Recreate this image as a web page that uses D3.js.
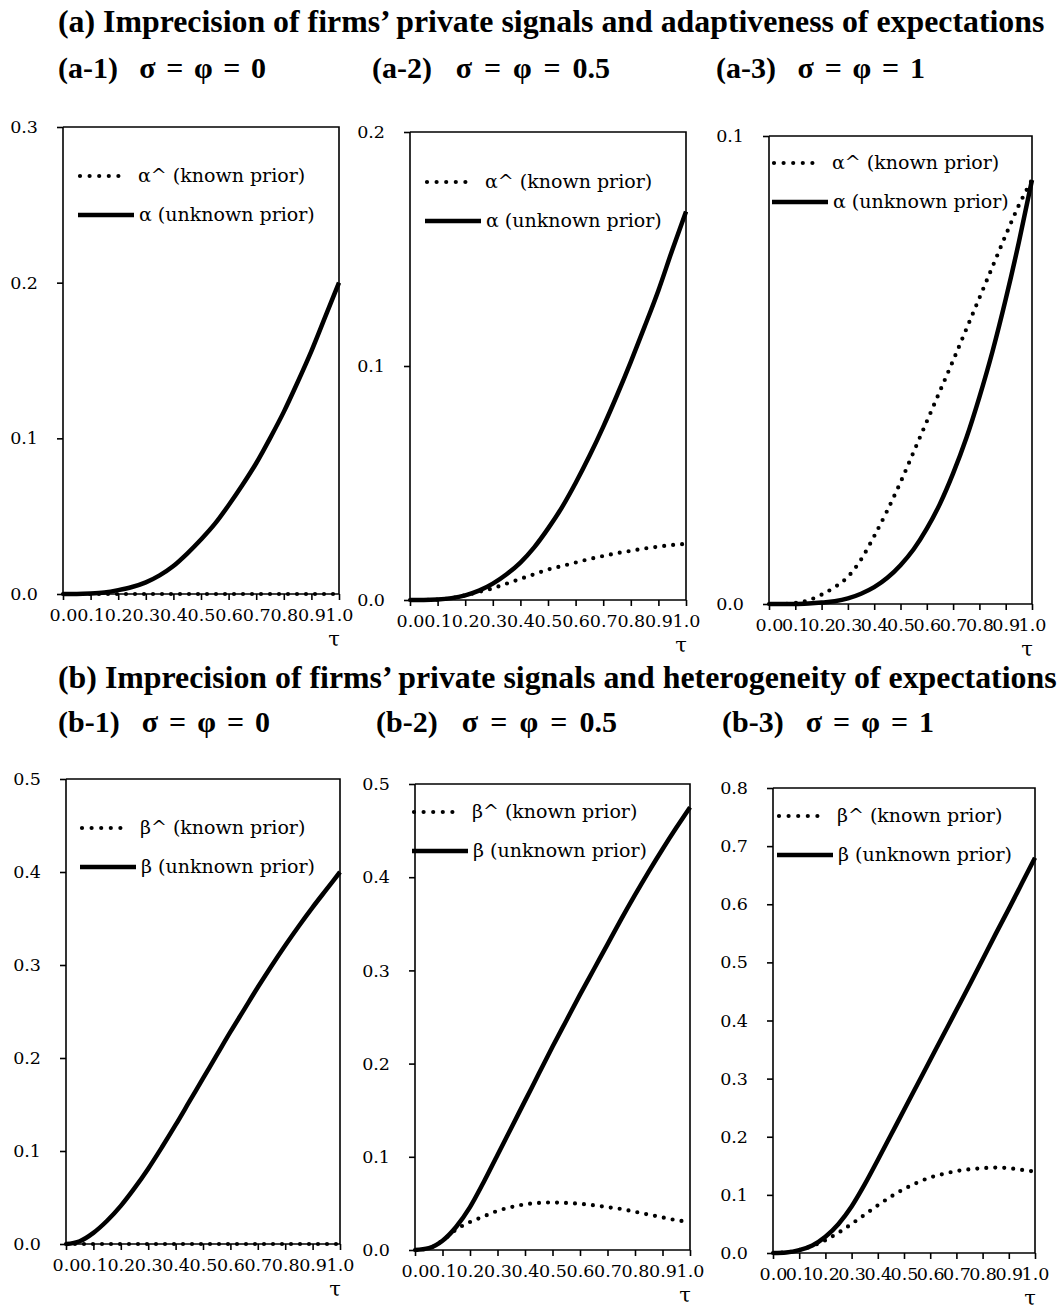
<!DOCTYPE html>
<html>
<head>
<meta charset="utf-8">
<script src="https://cdn.jsdelivr.net/npm/d3@7"></script>
<style>
  body { margin: 0; background: #fff; }
  text { font-family: "DejaVu Serif", serif; fill: #000; }
  .head { font-family: "Liberation Serif", serif; font-weight: bold; }
</style>
</head>
<body>
<div id="chart"></div>
<script>
// tau grid shared by every panel
const tau = [0, 0.05, 0.1, 0.15, 0.2, 0.25, 0.3, 0.35, 0.4, 0.45, 0.5,
             0.55, 0.6, 0.65, 0.7, 0.75, 0.8, 0.85, 0.9, 0.95, 1.0]
const xTicks = ['0.0', '0.1', '0.2', '0.3', '0.4', '0.5', '0.6', '0.7', '0.8', '0.9', '1.0']

// (a) alpha
const a1Known   = [0,0,0,0,0,0,0,0,0,0,0,0,0,0,0,0,0,0,0,0,0]
const a1Unknown = [0,0,0.0003,0.001,0.0025,0.0045,0.0075,0.012,0.018,0.026,0.035,
                   0.045,0.057,0.07,0.084,0.1,0.117,0.136,0.156,0.178,0.2]
const a2Known   = [0,0,0.0002,0.0008,0.002,0.0035,0.005,0.007,0.009,0.011,0.013,
                   0.0145,0.016,0.0175,0.0188,0.02,0.021,0.022,0.0228,0.0235,0.024]
const a2Unknown = [0,0,0.0002,0.0008,0.002,0.004,0.007,0.011,0.016,0.0225,0.0305,
                   0.0395,0.05,0.0615,0.074,0.0875,0.1018,0.1168,0.1323,0.1495,0.166]
const a3Known   = [0,0,0.0002,0.0008,0.002,0.0036,0.0058,0.0095,0.0145,0.02,0.026,
                   0.0325,0.039,0.0455,0.052,0.0587,0.0654,0.0721,0.0788,0.0852,0.0906]
const a3Unknown = [0,0,0,0.0001,0.0003,0.0006,0.0012,0.0022,0.0036,0.0056,0.0083,
                   0.0117,0.0161,0.0214,0.0279,0.0354,0.0442,0.054,0.0651,0.0773,0.0906]

// (b) beta
const b1Known   = [0,0,0,0,0,0,0,0,0,0,0,0,0,0,0,0,0,0,0,0,0]
const b1Unknown = [0,0.003,0.012,0.025,0.041,0.06,0.081,0.104,0.128,0.153,0.178,
                   0.203,0.228,0.252,0.276,0.299,0.321,0.342,0.362,0.381,0.4]
const b2Known   = [0,0.002,0.01,0.022,0.03,0.036,0.042,0.046,0.049,0.0505,0.051,
                   0.0505,0.0495,0.048,0.046,0.044,0.041,0.038,0.035,0.032,0.03]
const b2Unknown = [0,0.002,0.01,0.025,0.046,0.073,0.102,0.131,0.16,0.189,0.218,
                   0.246,0.274,0.301,0.328,0.355,0.381,0.406,0.43,0.453,0.475]
const b3Known   = [0,0.001,0.005,0.012,0.022,0.035,0.05,0.066,0.082,0.097,0.11,
                   0.121,0.13,0.136,0.141,0.144,0.146,0.147,0.146,0.143,0.14]
const b3Unknown = [0,0.001,0.005,0.013,0.028,0.05,0.08,0.118,0.16,0.203,0.246,
                   0.289,0.332,0.375,0.418,0.461,0.505,0.549,0.592,0.636,0.68]

const titles = [
  "(a) Imprecision of firms\u2019 private signals and adaptiveness of expectations",
  "(b) Imprecision of firms\u2019 private signals and heterogeneity of expectations"
]

var panels = [
  {sub: "(a-1)  \u03c3 = \u03c6 = 0",   sym: "\u03b1", known: a1Known, unknown: a1Unknown, ymax: 0.3, yTicks: ['0.0','0.1','0.2','0.3'],
   box: [63, 339, 127, 594], subX: 58, subY: 78, subW: 208, leg: [15, 49]},
  {sub: "(a-2)  \u03c3 = \u03c6 = 0.5", sym: "\u03b1", known: a2Known, unknown: a2Unknown, ymax: 0.2, yTicks: ['0.0','0.1','0.2'],
   box: [410, 686, 132, 600], subX: 372, subY: 78, subW: 238, leg: [15, 50]},
  {sub: "(a-3)  \u03c3 = \u03c6 = 1",   sym: "\u03b1", known: a3Known, unknown: a3Unknown, ymax: 0.1, yTicks: ['0.0','0.1'],
   box: [769, 1032, 136, 604], subX: 716, subY: 78, subW: 209, leg: [3, 27]},
  {sub: "(b-1)  \u03c3 = \u03c6 = 0",   sym: "\u03b2", known: b1Known, unknown: b1Unknown, ymax: 0.5, yTicks: ['0.0','0.1','0.2','0.3','0.4','0.5'],
   box: [66, 340, 779, 1244], subX: 58, subY: 732, subW: 212, leg: [14, 49]},
  {sub: "(b-2)  \u03c3 = \u03c6 = 0.5", sym: "\u03b2", known: b2Known, unknown: b2Unknown, ymax: 0.5, yTicks: ['0.0','0.1','0.2','0.3','0.4','0.5'],
   box: [415, 690, 784, 1250], subX: 376, subY: 732, subW: 241, leg: [-3, 28]},
  {sub: "(b-3)  \u03c3 = \u03c6 = 1",   sym: "\u03b2", known: b3Known, unknown: b3Unknown, ymax: 0.8, yTicks: ['0.0','0.1','0.2','0.3','0.4','0.5','0.6','0.7','0.8'],
   box: [773, 1035, 788, 1253], subX: 722, subY: 732, subW: 212, leg: [4, 28]}
]

var svg = d3.select("#chart").append("svg")
    .attr("width", 1061)
    .attr("height", 1310)

// scale font size so the text spans a target width
function fitWidth(sel, target) {
  var fs = parseFloat(sel.style("font-size"))
  var w = sel.node().getComputedTextLength()
  sel.style("font-size", (fs * target / w) + "px")
}

var t1 = svg.append("text").attr("class", "head").attr("x", 58).attr("y", 32)
    .style("font-size", "27px").text(titles[0])
fitWidth(t1, 987)
var t2 = svg.append("text").attr("class", "head").attr("x", 58).attr("y", 688)
    .style("font-size", "27px").text(titles[1])
fitWidth(t2, 999)

panels.forEach(function(p) {
  var [left, right, top, bottom] = p.box

  var sub = svg.append("text").attr("class", "head")
      .attr("x", p.subX).attr("y", p.subY)
      .style("font-size", "30px")
      .attr("xml:space", "preserve")
      .text(p.sub)
  // widen the gaps round the = signs like the math font does
  var extra = p.subW - sub.node().getComputedTextLength()
  if (extra > 0) sub.style("word-spacing", (extra / 6) + "px")

  var x = d3.scaleLinear().domain([0, 1]).range([left, right])
  var y = d3.scaleLinear().domain([0, p.ymax]).range([bottom, top])

  var g = svg.append("g")

  // frame: top and right edges
  g.append("path")
      .attr("d", "M" + left + "," + top + "H" + right + "V" + bottom)
      .attr("fill", "none").attr("stroke", "#000").attr("stroke-width", 1.6)

  var yAxis = d3.axisLeft(y)
      .tickValues(p.yTicks.map(Number))
      .tickFormat((d, i) => p.yTicks[i])
      .tickSize(6).tickPadding(19)
  var xAxis = d3.axisBottom(x)
      .tickValues(xTicks.map(Number))
      .tickFormat((d, i) => xTicks[i])
      .tickSize(6).tickPadding(9)

  var ya = g.append("g").attr("transform", "translate(" + left + ",0)").call(yAxis)
  var xa = g.append("g").attr("transform", "translate(0," + bottom + ")").call(xAxis)
  ;[ya, xa].forEach(function(a) {
    a.select(".domain").attr("stroke-width", 1.6)
    a.selectAll(".tick line").attr("stroke-width", 1.6)
    a.selectAll("text")
        .style("font-family", '"DejaVu Serif", serif')
        .style("font-size", "17.5px").attr("fill", "#000")
  })
  ya.select(".domain").attr("d", "M0," + top + "V" + bottom)
  xa.select(".domain").attr("d", "M" + left + ",0H" + right)

  g.append("text")
      .attr("x", right - 5).attr("y", bottom + 52)
      .attr("text-anchor", "middle")
      .style("font-size", "21px")
      .text("\u03c4")

  var line = d3.line()
      .x((d, i) => x(tau[i]))
      .y(d => y(d))
      .curve(d3.curveMonotoneX)

  g.append("path").datum(p.unknown)
      .attr("d", line)
      .attr("fill", "none").attr("stroke", "#000")
      .attr("stroke-width", 4.5).attr("stroke-linejoin", "round")

  g.append("path").datum(p.known)
      .attr("d", line)
      .attr("fill", "none").attr("stroke", "#000")
      .attr("stroke-width", 4.2).attr("stroke-linecap", "round")
      .attr("stroke-dasharray", "0 9")

  // legend
  var lx = left + p.leg[0], ly = top + p.leg[1]
  g.append("line")
      .attr("x1", lx + 2).attr("x2", lx + 50).attr("y1", ly).attr("y2", ly)
      .attr("stroke", "#000").attr("stroke-width", 4.2)
      .attr("stroke-linecap", "round").attr("stroke-dasharray", "0 9.6")
  g.append("text").attr("x", lx + 60).attr("y", ly).attr("dy", "0.33em")
      .style("font-size", "19px")
      .text(p.sym + "^ (known prior)")
  g.append("line")
      .attr("x1", lx).attr("x2", lx + 56).attr("y1", ly + 39).attr("y2", ly + 39)
      .attr("stroke", "#000").attr("stroke-width", 4.5)
  g.append("text").attr("x", lx + 61).attr("y", ly + 39).attr("dy", "0.33em")
      .style("font-size", "19px")
      .text(p.sym + " (unknown prior)")
})
</script>
</body>
</html>
